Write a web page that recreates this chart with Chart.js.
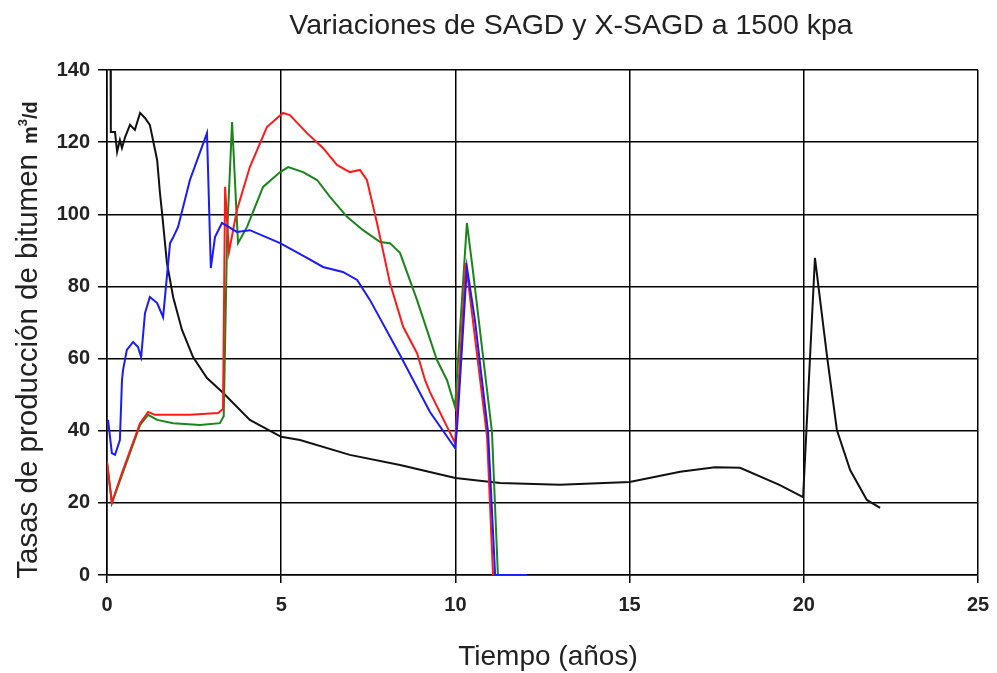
<!DOCTYPE html>
<html>
<head>
<meta charset="utf-8">
<script src="https://cdn.jsdelivr.net/npm/chart.js@4"></script>
<style>
  html, body { margin: 0; padding: 0; background: #fff; }
  #wrap { width: 997px; height: 673px; }
</style>
</head>
<body>
<div id="wrap"><canvas id="myChart" width="997" height="673"></canvas></div>
<script>
// tiempo (años) y tasa (m3/d) de cada corrida
const sagdX = [0.1, 0.11, 0.23, 0.29, 0.37, 0.43, 0.52, 0.66, 0.8, 0.95, 1.09, 1.23, 1.32, 1.44, 1.52, 1.58, 1.72, 1.9, 2.15, 2.47, 2.87, 3.33, 4.1, 5.0, 5.54, 6.97, 8.41, 10, 11.28, 13, 15, 16.45, 17.45, 18.17, 19.3, 19.98, 20.32, 20.67, 20.95, 21.33, 21.81, 22.19];
const sagdY = [150, 122.8, 122.8, 117.3, 120.6, 118.4, 121.4, 124.8, 123.4, 128.1, 126.7, 124.8, 120.6, 115, 105.9, 100.4, 86.5, 77, 68, 60.4, 54.6, 50.5, 43, 38.3, 37.4, 33.3, 30.5, 26.9, 25.5, 25, 25.8, 28.6, 29.9, 29.7, 25, 21.6, 87.9, 60.4, 40.2, 29.1, 20.8, 18.6];

const azulX = [0.03, 0.14, 0.23, 0.37, 0.43, 0.46, 0.57, 0.75, 0.89, 0.98, 1.09, 1.23, 1.44, 1.61, 1.81, 1.89, 2.04, 2.38, 2.87, 2.98, 3.1, 3.3, 3.73, 4.1, 4.97, 5.74, 6.2, 6.77, 7.18, 7.55, 8.41, 9.27, 9.99, 10.05, 10.33, 10.56, 10.94, 11.14, 12.05];
const azulY = [43, 33.8, 33.3, 37.4, 54, 56.8, 62.4, 64.6, 63.2, 60.4, 72.6, 77.1, 75.4, 71.5, 92, 93.4, 96.5, 109.5, 122.5, 85.1, 93.7, 97.6, 95.1, 95.6, 92, 87.9, 85.4, 84, 81.8, 76.2, 61, 45.2, 35.2, 41, 85.4, 70.7, 39.4, 0, 0];

const rojoX = [0, 0.14, 0.43, 0.95, 1.18, 1.38, 2.38, 3.19, 3.33, 3.39, 3.5, 3.73, 4.1, 4.59, 5.05, 5.25, 5.74, 6.2, 6.6, 6.97, 7.26, 7.46, 7.75, 8.12, 8.5, 8.9, 9.13, 9.27, 9.99, 10.3, 10.5, 10.91, 11.08];
const rojoY = [31.3, 20, 28.3, 42.1, 45.2, 44.4, 44.4, 44.9, 46, 107.6, 89.5, 101.2, 113.1, 124.2, 128.1, 127.5, 122.5, 118.4, 113.7, 111.7, 112.3, 109.5, 97.6, 81, 68.8, 61.5, 54, 50.7, 36.6, 86.5, 70.7, 38.3, 0];

const verdeX = [0, 0.14, 0.95, 1.18, 1.44, 1.9, 2.67, 3.24, 3.35, 3.45, 3.59, 3.76, 4.02, 4.48, 4.97, 5.2, 5.63, 6.03, 6.4, 6.89, 7.35, 7.84, 8.12, 8.41, 8.9, 9.47, 9.76, 9.99, 10.33, 10.5, 11.05, 11.22];
const verdeY = [31.3, 20, 41.6, 44.4, 43, 42.1, 41.6, 42.1, 44, 95, 125.6, 92, 96.5, 107.6, 111.7, 113.1, 111.7, 109.5, 104.8, 99.3, 95.6, 92.3, 92, 89.3, 76.2, 59.6, 54, 46.6, 97.6, 84.6, 39.6, 0];

const xTicks = [0, 5, 10, 15, 20, 25];
const yTicks = [0, 20, 40, 60, 80, 100, 120, 140];

function pts(xs, ys) {
  return xs.map((x, i) => ({ x: x, y: ys[i] }));
}

const fam = "'Liberation Sans', Arial, sans-serif";

// textos: titulo y ejes
const textos = {
  id: "textos",
  afterDraw(chart) {
    const ctx = chart.ctx;
    ctx.save();
    ctx.fillStyle = "#222";
    ctx.textBaseline = "middle";
    ctx.textAlign = "center";
    ctx.font = "28.5px " + fam;
    ctx.fillText("Variaciones de SAGD y X-SAGD a 1500 kpa", 571, 26);
    ctx.font = "28px " + fam;
    ctx.fillText("Tiempo (años)", 548, 657);

    // titulo vertical con la unidad mas chica
    ctx.translate(29, 340);
    ctx.rotate(-Math.PI / 2);
    const a = "Tasas de producción de bitumen";
    ctx.font = "29.5px " + fam;
    const wa = ctx.measureText(a).width;
    ctx.font = "bold 20px " + fam;
    const wm = ctx.measureText("m").width;
    const wd = ctx.measureText("/d").width;
    ctx.font = "bold 13px " + fam;
    const w3 = ctx.measureText("3").width;
    const gap = 10;
    let x = -(wa + gap + wm + w3 + wd) / 2;
    ctx.textAlign = "left";
    ctx.font = "29.5px " + fam;
    ctx.fillText(a, x, 0);
    x += wa + gap;
    ctx.font = "bold 20px " + fam;
    ctx.fillText("m", x, 2);
    x += wm;
    ctx.font = "bold 13px " + fam;
    ctx.fillText("3", x, -6);
    x += w3;
    ctx.font = "bold 20px " + fam;
    ctx.fillText("/d", x, 2);
    ctx.restore();
  }
};

const tickFont = { family: fam, size: 20, weight: "bold" };

new Chart("myChart", {
  type: "line",
  data: {
    datasets: [
      { data: pts(azulX, azulY), borderColor: "#1a1aff" },
      { data: pts(rojoX, rojoY), borderColor: "#ff1a1a" },
      { data: pts(verdeX, verdeY), borderColor: "#1a851a" },
      { data: pts(sagdX, sagdY), borderColor: "#111" }
    ].map(d => Object.assign(d, { borderWidth: 2, pointRadius: 0, tension: 0, fill: false }))
  },
  options: {
    responsive: false,
    animation: false,
    layout: { padding: { top: 70, right: 19, left: 0, bottom: 0 } },
    plugins: { legend: { display: false }, title: { display: false }, tooltip: { enabled: false } },
    scales: {
      x: {
        type: "linear",
        min: 0, max: 25,
        afterBuildTicks: s => { s.ticks = xTicks.map(v => ({ value: v })); },
        afterFit: s => { s.height = 98; s.paddingLeft = 0; s.paddingRight = 0; },
        grid: { color: "#000", lineWidth: 1.5, tickLength: 8, tickColor: "#000" },
        border: { color: "#000", width: 1.5 },
        ticks: { font: tickFont, color: "#222", padding: 10, maxRotation: 0 }
      },
      y: {
        min: 0, max: 140,
        afterBuildTicks: s => { s.ticks = yTicks.map(v => ({ value: v })); },
        afterFit: s => { s.width = 107; s.paddingTop = 0; s.paddingBottom = 0; },
        grid: { color: "#000", lineWidth: 1.5, tickLength: 9, tickColor: "#000" },
        border: { color: "#000", width: 1.5 },
        ticks: { font: tickFont, color: "#222", padding: 8 }
      }
    }
  },
  plugins: [textos]
});
</script>
</body>
</html>
